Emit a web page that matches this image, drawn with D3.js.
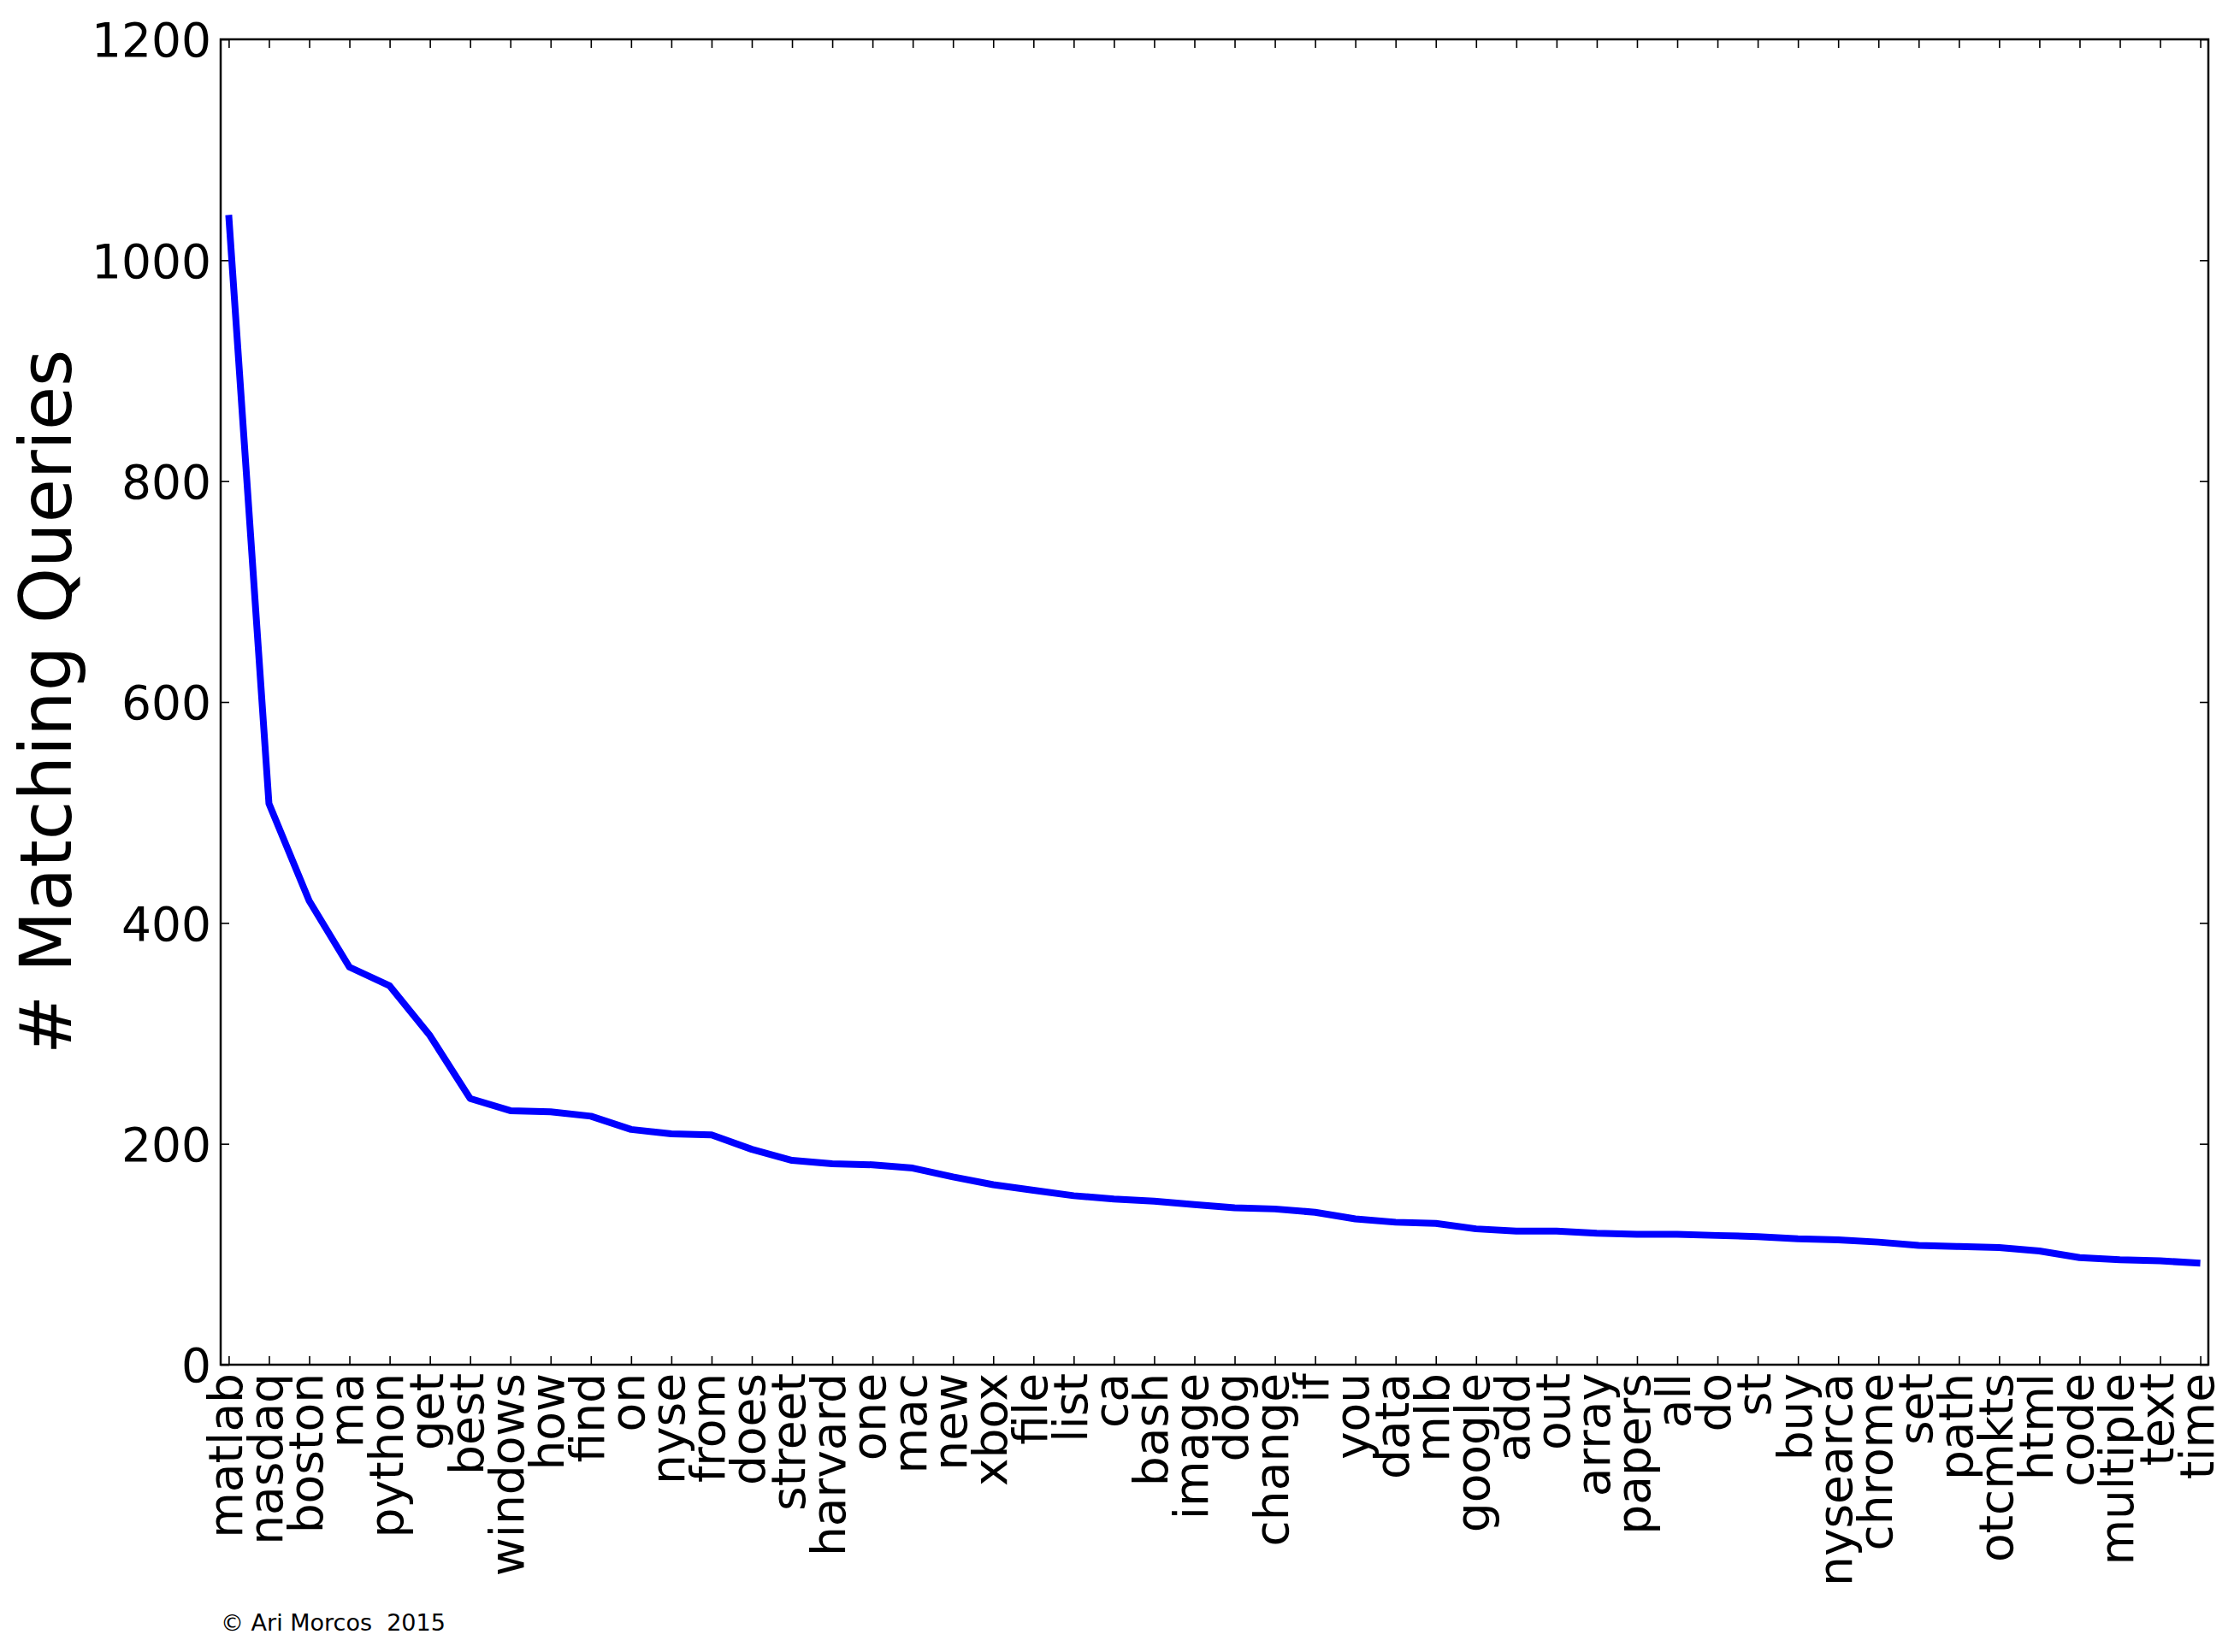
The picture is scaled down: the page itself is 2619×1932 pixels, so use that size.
<!DOCTYPE html>
<html>
<head>
<meta charset="utf-8">
<script src="https://cdn.jsdelivr.net/npm/d3@7"></script>
<style>
  html, body { margin: 0; padding: 0; background: #ffffff; }
  svg { display: block; }
  text { font-family: "DejaVu Sans", "Bitstream Vera Sans", sans-serif; fill: #000; }
</style>
</head>
<body>
<svg id="chart" width="2619" height="1932"></svg>
<script>
const categories = ["matlab","nasdaq","boston","ma","python","get","best","windows","how","find",
  "on","nyse","from","does","street","harvard","one","mac","new","xbox",
  "file","list","ca","bash","image","dog","change","if","you","data",
  "mlb","google","add","out","array","papers","all","do","st","buy",
  "nysearca","chrome","set","path","otcmkts","html","code","multiple","text","time"];
const queryCounts = [1041,508,420,360,343,298,241,230,229,225,
  213,209,208,195,185,182,181,178,170,163,
  158,153,150,148,145,142,141,138,132,129,
  128,123,121,121,119,118,118,117,116,114,
  113,111,108,107,106,103,97,95,94,92];
const yTicks = [0,200,400,600,800,1000,1200];
const yLabel = "# Matching Queries";
const credit = "\u00A9 Ari Morcos  2015";

const W = 2619, H = 1932;
const m = {left: 258, right: W - 2582, top: 46, bottom: H - 1596};
const svg = d3.select("#chart");
svg.append("rect").attr("width", W).attr("height", H).attr("fill", "#fff");

const x = d3.scaleLinear().domain([-0.2, categories.length - 1 + 0.2]).range([m.left, W - m.right]);
const y = d3.scaleLinear().domain([0, 1200]).range([H - m.bottom, m.top]);
const idx = d3.range(categories.length);

const tickLen = 10;
// bottom axis with labels
const gB = svg.append("g").attr("transform", `translate(0,${H - m.bottom})`)
  .call(d3.axisBottom(x).tickValues(idx).tickSize(-tickLen).tickSizeOuter(0).tickFormat(i => categories[i]));
gB.select(".domain").remove();
gB.selectAll(".tick line").attr("stroke", "#000").attr("stroke-width", 1.6);
gB.selectAll(".tick text")
  .attr("font-size", 55)
  .attr("text-anchor", "end")
  .attr("transform", "translate(0,10) rotate(-90)")
  .attr("x", 0).attr("y", 0).attr("dy", "0.27em")
  .style("font-family", "'DejaVu Sans', sans-serif");

// top axis
const gT = svg.append("g").attr("transform", `translate(0,${m.top})`)
  .call(d3.axisTop(x).tickValues(idx).tickSize(-tickLen).tickSizeOuter(0).tickFormat(""));
gT.select(".domain").remove();
gT.selectAll(".tick line").attr("stroke", "#000").attr("stroke-width", 1.6);

// left axis with labels
const gL = svg.append("g").attr("transform", `translate(${m.left},0)`)
  .call(d3.axisLeft(y).tickValues(yTicks).tickSize(-tickLen).tickSizeOuter(0).tickFormat(d3.format("d")));
gL.select(".domain").remove();
gL.selectAll(".tick line").attr("stroke", "#000").attr("stroke-width", 1.6);
gL.selectAll(".tick text")
  .attr("font-size", 55).attr("x", -11).attr("dy", "0.36em")
  .style("font-family", "'DejaVu Sans', sans-serif");

// right axis
const gR = svg.append("g").attr("transform", `translate(${W - m.right},0)`)
  .call(d3.axisRight(y).tickValues(yTicks).tickSize(-tickLen).tickSizeOuter(0).tickFormat(""));
gR.select(".domain").remove();
gR.selectAll(".tick line").attr("stroke", "#000").attr("stroke-width", 1.6);

// data line
const line = d3.line().x((d, i) => x(i)).y(d => y(d));
svg.append("path").datum(queryCounts)
  .attr("d", line)
  .attr("fill", "none")
  .attr("stroke", "#0000ff")
  .attr("stroke-width", 8)
  .attr("stroke-linejoin", "round")
  .attr("stroke-linecap", "butt");

// frame
svg.append("rect")
  .attr("x", m.left).attr("y", m.top)
  .attr("width", W - m.left - m.right).attr("height", H - m.top - m.bottom)
  .attr("fill", "none").attr("stroke", "#000").attr("stroke-width", 2.5);

// y label
svg.append("text")
  .attr("transform", `translate(83,${(m.top + H - m.bottom) / 2}) rotate(-90)`)
  .attr("text-anchor", "middle")
  .attr("font-size", 83)
  .text(yLabel);

// credit
svg.append("text")
  .attr("x", 258).attr("y", 1907)
  .attr("font-size", 27)
  .attr("xml:space", "preserve")
  .style("white-space", "pre")
  .text(credit);
</script>
</body>
</html>
